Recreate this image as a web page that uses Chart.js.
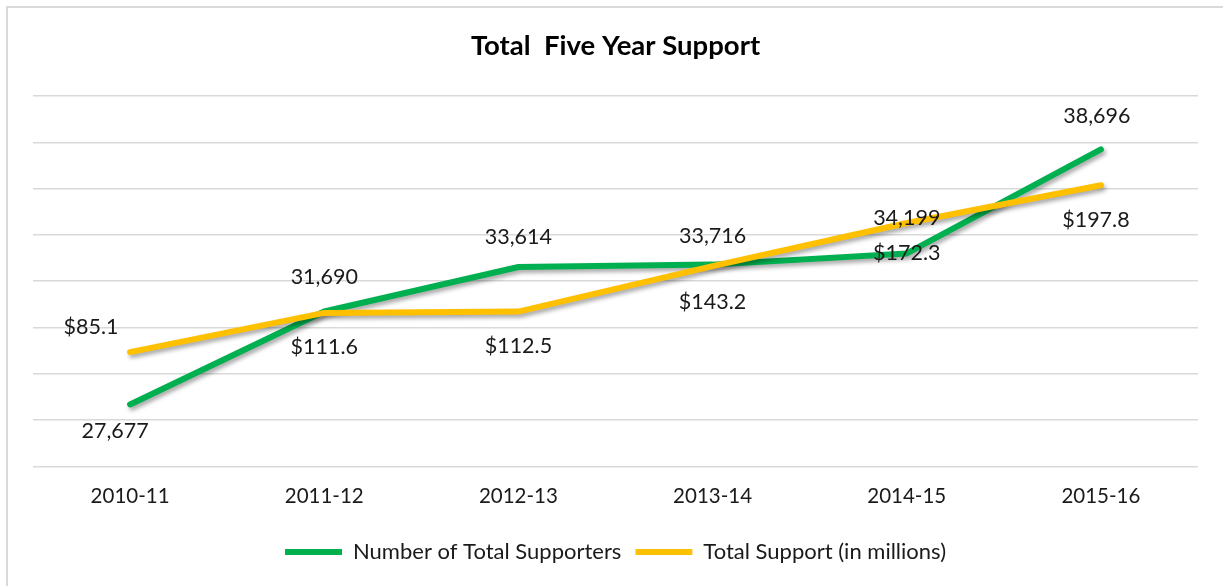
<!DOCTYPE html>
<html>
<head>
<meta charset="utf-8">
<script src="https://cdn.jsdelivr.net/npm/chart.js@4"></script>
<style>
  html, body { margin: 0; padding: 0; background: #fff; }
  #frame { position: absolute; left: 6px; top: 6px; width: 1230px; height: 600px;
           border-left: 2px solid #d9d9d9; border-top: 2px solid #d9d9d9; }
  #wrap { position: absolute; left: 0; top: 0; width: 1223px; height: 586px; }
</style>
</head>
<body>
<div id="frame"></div>
<div id="wrap"><canvas id="chart" width="1223" height="586"></canvas></div>
<script>
// Data
const years = ['2010-11', '2011-12', '2012-13', '2013-14', '2014-15', '2015-16'];
const supporters = [27677, 31690, 33614, 33716, 34199, 38696];
const supportMillions = [85.1, 111.6, 112.5, 143.2, 172.3, 197.8];

// label offsets (dx, dy) from each point, px
const greenLabelPos = [[-15, 27], [0, -34], [0, -30], [0, -29], [0, -35], [-4, -33]];
const yellowLabelPos = [[-39, -25], [0, 34], [0, 34], [0, 36], [0, 30], [-5, 35]];

const FONT = 'Lato, "Open Sans", sans-serif';

// soft drop shadow under the lines, like the original
const lineShadow = {
  id: 'lineShadow',
  beforeDatasetDraw(chart) {
    const ctx = chart.ctx;
    ctx.save();
    ctx.shadowColor = 'rgba(0,0,0,0.35)';
    ctx.shadowBlur = 4;
    ctx.shadowOffsetX = 2;
    ctx.shadowOffsetY = 3;
  },
  afterDatasetDraw(chart) {
    chart.ctx.restore();
  }
};

// value labels next to each point
const valueLabels = {
  id: 'valueLabels',
  afterDatasetsDraw(chart) {
    const ctx = chart.ctx;
    ctx.save();
    ctx.font = '21.5px ' + FONT;
    ctx.fillStyle = '#1a1a1a';
    ctx.textAlign = 'center';
    ctx.textBaseline = 'middle';
    chart.data.datasets.forEach((ds, i) => {
      const meta = chart.getDatasetMeta(i);
      const offs = i === 0 ? greenLabelPos : yellowLabelPos;
      meta.data.forEach((pt, j) => {
        const v = ds.data[j];
        const txt = i === 0 ? v.toLocaleString('en-US') : '$' + v.toFixed(1);
        ctx.fillText(txt, pt.x + offs[j][0], pt.y + offs[j][1]);
      });
    });
    ctx.restore();
  }
};

new Chart(document.getElementById('chart'), {
  type: 'line',
  data: {
    labels: years,
    datasets: [
      {
        label: 'Number of Total Supporters',
        data: supporters,
        borderColor: '#00b050',
        backgroundColor: '#00b050',
        borderWidth: 6,
        borderCapStyle: 'round',
        borderJoinStyle: 'round',
        pointRadius: 0,
        tension: 0,
        yAxisID: 'y',
        order: 1
      },
      {
        label: 'Total Support (in millions)',
        data: supportMillions,
        borderColor: '#ffc000',
        backgroundColor: '#ffc000',
        borderWidth: 6,
        borderCapStyle: 'round',
        borderJoinStyle: 'round',
        pointRadius: 0,
        tension: 0,
        yAxisID: 'y1',
        order: 0
      }
    ]
  },
  options: {
    responsive: false,
    animation: false,
    layout: { padding: { left: 33, right: 25, top: 0, bottom: 13 } },
    plugins: {
      title: {
        display: true,
        text: 'Total  Five Year Support',
        color: '#000',
        font: { family: FONT, size: 27.5, weight: 'bold' },
        padding: { top: 30, bottom: 33 }
      },
      legend: {
        position: 'bottom',
        labels: {
          color: '#1a1a1a',
          font: { family: FONT, size: 22 },
          usePointStyle: true,
          pointStyle: 'line',
          pointStyleWidth: 57,
          padding: 14,
          sort: (a, b) => a.datasetIndex - b.datasetIndex
        }
      },
      tooltip: { enabled: false }
    },
    scales: {
      x: {
        offset: true,
        grid: { display: false, drawTicks: false },
        border: { display: false },
        ticks: { color: '#1a1a1a', font: { family: FONT, size: 20.5 }, padding: 18 }
      },
      y: {
        min: 25000,
        max: 41000,
        ticks: { stepSize: 2000, display: false },
        grid: { color: '#d9d9d9', lineWidth: 1.5, drawTicks: false },
        border: { display: false }
      },
      y1: {
        display: false,
        min: 8,
        max: 258
      }
    }
  },
  plugins: [lineShadow, valueLabels]
});
</script>
</body>
</html>
